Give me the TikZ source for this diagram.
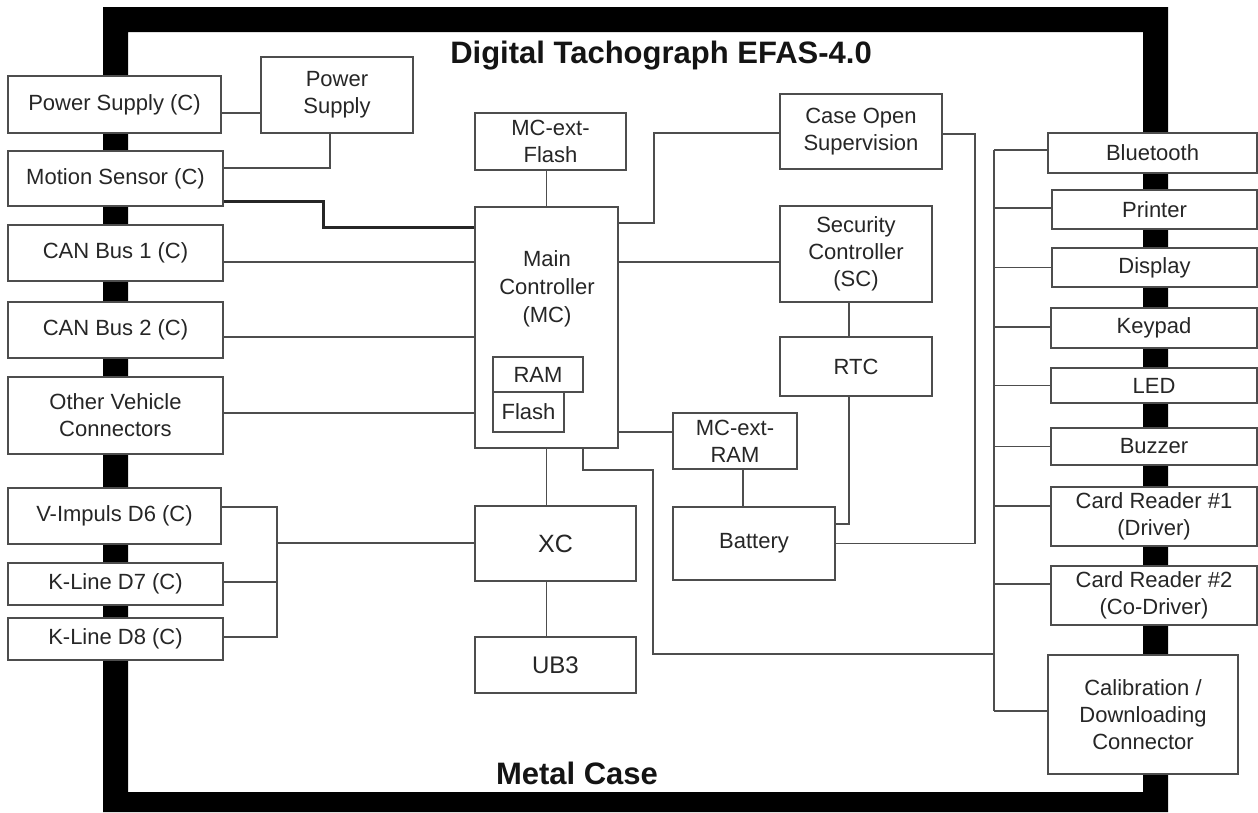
\documentclass[tikz,border=0pt]{standalone}
\usepackage{fontspec}
\setmainfont{Liberation Sans}
\usetikzlibrary{calc}
\definecolor{boxgray}{HTML}{4D4D4D}
\definecolor{txt}{HTML}{262626}
\begin{document}
\begin{tikzpicture}[x=1pt,y=-1pt,
  box/.style={draw=boxgray, line width=1.8pt, fill=white, inner sep=0pt, align=center, text=txt, font=\fontsize{22}{27}\selectfont},
  wh/.style 2 args={minimum width=#1pt, minimum height=#2pt},
  wire/.style={draw=boxgray, line width=1.8pt},
  heavy/.style={draw=black!85, line width=3pt},
  big/.style={font=\bfseries\fontsize{31}{36}\selectfont, text=black!92, inner sep=0pt},
]
\useasboundingbox (0,0) rectangle (1258,812);
% metal case frame
\fill[black, even odd rule] (103,7) rectangle (1168,812) (128,32) rectangle (1143,792);
\node[big, anchor=base] (title) at (661,63) {Digital Tachograph EFAS-4.0};
\node[big, anchor=base] (metal) at (577,784) {Metal Case};

% left connectors
\node[box, wh={213}{57}] (psc) at (114.5,104.5) {Power Supply (C)};
\node[box, wh={215}{55}] (msc) at (115.5,178.5) {Motion Sensor (C)};
\node[box, wh={215}{56}] (can1) at (115.5,253) {CAN Bus 1 (C)};
\node[box, wh={215}{56}] (can2) at (115.5,330) {CAN Bus 2 (C)};
\node[box, wh={215}{77}] (ovc) at (115.5,415.5) {Other Vehicle\\Connectors};
\node[box, wh={213}{56}] (vimp) at (114.5,516) {V-Impuls D6 (C)};
\node[box, wh={215}{42}] (kl7) at (115.5,584) {K-Line D7 (C)};
\node[box, wh={215}{42}] (kl8) at (115.5,639) {K-Line D8 (C)};

% internal blocks
\node[box, wh={152}{76}] (ps) at (337,95) {Power\\Supply};
\node[box, wh={151}{57}] (mcf) at (550.5,141.5) {MC-ext-\\Flash};
\node[box, wh={143}{241}] (mc) at (546.5,327.5) {};
\node[text=txt, align=center, inner sep=0pt, font=\fontsize{22}{28}\selectfont] (mclbl) at (547,289) {Main\\Controller\\(MC)};
\node[box, wh={90}{35}] (ram) at (538,374.5) {RAM};
\node[box, wh={71}{40}] (flash) at (528.5,412) {Flash};
\node[box, wh={162}{75}] (cos) at (861,131.5) {Case Open\\Supervision};
\node[box, wh={152}{96}] (sc) at (856,254) {Security\\Controller\\(SC)};
\node[box, wh={152}{59}] (rtc) at (856,366.5) {RTC};
\node[box, wh={124}{56}] (mcr) at (735,441) {MC-ext-\\RAM};
\node[box, wh={162}{73}] (bat) at (754,543.5) {Battery};
\node[box, wh={161}{75}, font=\fontsize{25}{30}\selectfont] (xc) at (555.5,543.5) {XC};
\node[box, wh={161}{56}, font=\fontsize{24}{30}\selectfont] (ub3) at (555.5,665) {UB3};

% right peripherals
\node[box, wh={209}{40}] (bt) at (1152.5,153) {Bluetooth};
\node[box, wh={205}{39}] (pr) at (1154.5,209.5) {Printer};
\node[box, wh={205}{39}] (dp) at (1154.5,267.5) {Display};
\node[box, wh={206}{40}] (kp) at (1154,328) {Keypad};
\node[box, wh={206}{35}] (led) at (1154,385.5) {LED};
\node[box, wh={206}{37}] (bz) at (1154,446.5) {Buzzer};
\node[box, wh={206}{59}] (cr1) at (1154,516.5) {Card Reader \#1\\(Driver)};
\node[box, wh={206}{59}] (cr2) at (1154,595.5) {Card Reader \#2\\(Co-Driver)};
\node[box, wh={190}{119}] (cal) at (1143,714.5) {Calibration /\\Downloading\\Connector};

\coordinate (bT) at (994,150);
\coordinate (bB) at (994,711);
\coordinate (kj) at (277,543);

% connectors, left side
\draw[wire] ([yshift=-8.5pt]psc.east) -- ([yshift=-8.5pt]psc.east -| ps.west);
\draw[wire] ([xshift=-7pt]ps.south) |- ([yshift=10.5pt]msc.east);
\draw[heavy] ([yshift=-22.5pt]msc.east) -- ++(100,0) |- ([yshift=-21pt]mc.north west);
\draw[wire] ([yshift=-9pt]can1.east) -- ([yshift=-9pt]can1.east -| mc.west);
\draw[wire] ([yshift=-7pt]can2.east) -- ([yshift=-7pt]can2.east -| mc.west);
\draw[wire] ([yshift=2.5pt]ovc.east) -- ([yshift=2.5pt]ovc.east -| mc.west);
\draw[wire] ([yshift=9pt]vimp.east) -| (kj) |- ([yshift=2pt]kl8.east);
\draw[wire] ([yshift=2pt]kl7.east) -- ([yshift=2pt]kl7.east -| kj);
\draw[wire] (kj) -- (kj -| xc.west);

% connectors, centre
\draw[wire] (mc.north) -- (mc.north |- mcf.south);
\draw[wire] ([yshift=-17pt]mc.north east) -- ++(35,0) |- ([yshift=-1.5pt]cos.west);
\draw[wire] ([yshift=-8pt]sc.west) -- ([yshift=-8pt]sc.west -| mc.east);
\draw[wire] ([xshift=-7pt]sc.south) -- ([xshift=-7pt]sc.south |- rtc.north);
\draw[wire] ([yshift=9pt]mcr.west) -- ([yshift=9pt]mcr.west -| mc.east);
\draw[wire] ([xshift=8pt]mcr.south) -- ([xshift=8pt]mcr.south |- bat.north);
\draw[wire] ([xshift=-7pt]rtc.south) |- ([yshift=19.5pt]bat.east);
\draw[wire] ([yshift=-2.5pt]cos.east) -- ++(32,0) |- (bat.east);
\draw[wire] (mc.south) -- (mc.south |- xc.north);
\draw[wire] (mc.south |- xc.south) -- (mc.south |- ub3.north);
\draw[wire] ([xshift=36.5pt]mc.south) -- ++(0,21) -- ++(70,0) |- (bB |- cal.north);

% right bus
\draw[wire] (bT) -- (bB);
\draw[wire] ([yshift=3pt]bt.west) -- ([yshift=3pt]bt.west -| bT);
\draw[wire] ([yshift=1.5pt]pr.west) -- ([yshift=1.5pt]pr.west -| bT);
\draw[wire] (dp.west) -- (dp.west -| bT);
\draw[wire] ([yshift=1pt]kp.west) -- ([yshift=1pt]kp.west -| bT);
\draw[wire] (led.west) -- (led.west -| bT);
\draw[wire] (bz.west) -- (bz.west -| bT);
\draw[wire] ([yshift=10.5pt]cr1.west) -- ([yshift=10.5pt]cr1.west -| bT);
\draw[wire] ([yshift=11.5pt]cr2.west) -- ([yshift=11.5pt]cr2.west -| bT);
\draw[wire] ([yshift=3.5pt]cal.west) -- ([yshift=3.5pt]cal.west -| bT);
\end{tikzpicture}
\end{document}
